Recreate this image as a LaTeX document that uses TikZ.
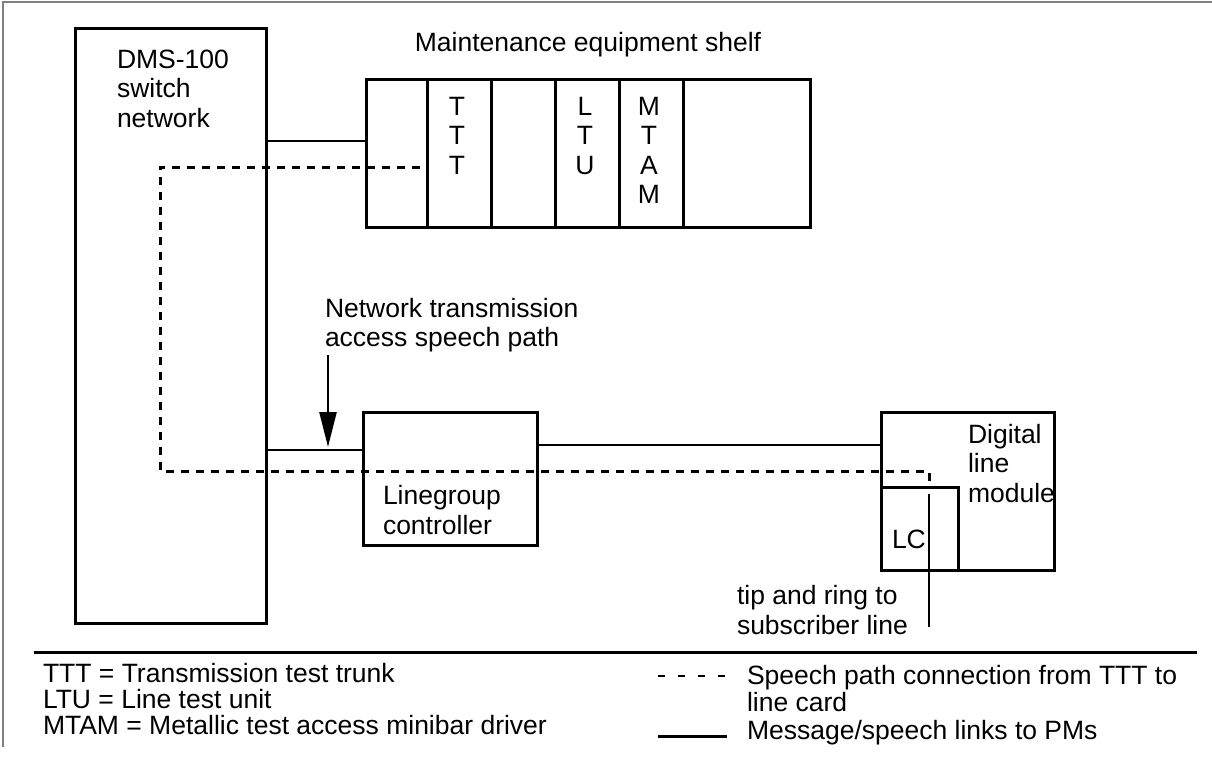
\documentclass[tikz,border=0pt]{standalone}
\usepackage{fontspec}
\setmainfont{Liberation Sans}
\usetikzlibrary{arrows.meta}
\begin{document}
\begin{tikzpicture}[x=0.5pt,y=-0.5pt,
  every node/.style={font=\fontsize{13.25}{14.75}\selectfont, inner sep=0pt, outer sep=0pt},
  box/.style={draw, line width=1.5pt, anchor=north west},
  divider/.style={line width=1.5pt},
  link/.style={line width=1.2pt},
  speech/.style={line width=1.5pt, dash pattern=on 4pt off 3.5pt},
  lbl/.style={align=left, anchor=base west},
  slot/.style={align=center, anchor=base},
]
\useasboundingbox (0,0) rectangle (1212,761);
% frame
\draw[gray, line width=1pt] (3,747) -- (3,1.5) -- (1212,1.5);

% DMS-100 switch network (anchors are at the baseline of the last line)
\node[box, minimum width=95.5pt, minimum height=297.5pt] (dms) at (75,28) {};
\node[lbl] (dmst) at (117,127) {DMS-100\\switch\\network};

% Maintenance equipment shelf
\node[anchor=base] (shelft) at (588,51) {Maintenance equipment shelf};
\node[box, minimum width=222pt, minimum height=74pt] (shelf) at (366,79) {};
\foreach \x in {427,491,555,619,683} \draw[divider] (\x,79) -- (\x,227);
\node[slot] (ttt) at (457,174) {T\\T\\T};
\node[slot] (ltu) at (585,174) {L\\T\\U};
\node[slot] (mtam) at (649,203.5) {M\\T\\A\\M};

% Linegroup controller
\node[box, minimum width=87pt, minimum height=66.5pt] (lgc) at (363,412) {};
\node[lbl] (lgct) at (383,534) {Linegroup\\controller};

% Digital line module and LC
\node[box, minimum width=86.5pt, minimum height=79pt] (dlm) at (881,412) {};
\node[lbl] (dlmt) at (968,502) {Digital\\line\\module};
\node[box, minimum width=38.5pt, minimum height=41.5pt] (lc) at (881,487) {};
\node[lbl] (lct) at (892,548) {LC};

% message/speech links
\coordinate (ya) at (0,141);
\coordinate (yb) at (0,450);
\coordinate (yc) at (0,445);
\draw[link] (dms.east |- ya) -- (shelf.west |- ya);
\draw[link] (dms.east |- yb) -- (lgc.west |- yb);
\draw[link] (lgc.east |- yc) -- (dlm.west |- yc);

% speech path TTT -> line card
\coordinate (s0) at (420,167);
\coordinate (s1) at (160,167);
\coordinate (s2) at (160,471);
\coordinate (s3) at (929,471);
\draw[speech] (s0) -- (s1) -- (s2) -- (s3) -- (s3 |- lc.north);

% tip and ring
\coordinate (t0) at (929,494);
\coordinate (t1) at (929,627);
\draw[link] (t0) -- (t1);
\node[lbl] (tipt) at (737,634) {tip and ring to\\subscriber line};

% network transmission access arrow
\node[lbl] (ntt) at (325,346.5) {Network transmission\\access speech path};
\coordinate (a0) at (328,355);
\coordinate (a1) at (328,447);
\draw[link, -{Triangle[length=17.5pt,width=8.5pt]}] (a0) -- (a1);

% separator
\coordinate (l0) at (34,652);
\coordinate (l1) at (1197,652);
\draw[line width=1.5pt] (l0) -- (l1);

% legend
\node[lbl] (k1) at (43,682) {TTT = Transmission test trunk};
\node[lbl] (k2) at (43,708) {LTU = Line test unit};
\node[lbl] (k3) at (43,734) {MTAM = Metallic test access minibar driver};
\coordinate (d0) at (658,676);
\coordinate (d1) at (725,676);
\draw[line width=1.2pt, dash pattern=on 3.5pt off 6.5pt] (d0) -- (d1);
\coordinate (m0) at (658,736);
\coordinate (m1) at (727,736);
\draw[line width=1.5pt] (m0) -- (m1);
\node[lbl] (k4) at (747,684) {Speech path connection from TTT to};
\node[lbl] (k5) at (747,711) {line card};
\node[lbl] (k6) at (747,739) {Message/speech links to PMs};
\end{tikzpicture}
\end{document}
